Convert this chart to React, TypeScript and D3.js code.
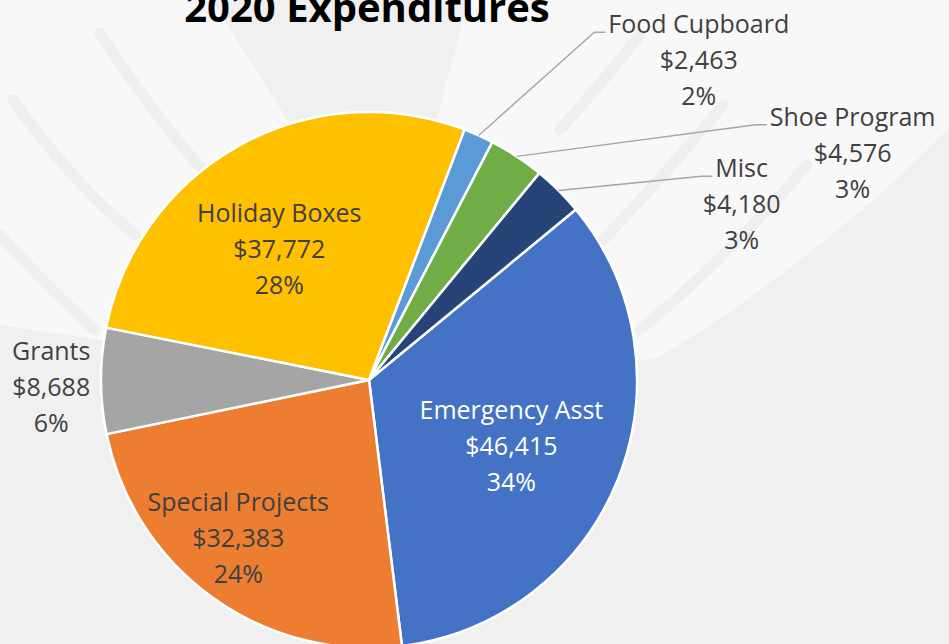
import React from 'react';
import * as d3 from 'd3';

// chart values
const categories = ['Emergency Asst', 'Special Projects', 'Grants', 'Holiday Boxes', 'Food Cupboard', 'Shoe Program', 'Misc'];
const amounts = [46415, 32383, 8688, 37772, 2463, 4576, 4180];
const colors = ['#4472C4', '#ED7D31', '#A5A5A5', '#FFC000', '#5B9BD5', '#70AD47', '#264478'];
const title = '2020 Expenditures';

// layout: where each label sits relative to its slice centroid, and which get leader lines
const labelNudge = [[-7, 6], [-37, 26], [-157, 5], [-12, 9], [264, -174], [395, -94], [259, -63]];
const hasLeader = [false, false, false, false, true, true, true];
const whiteText = [true, false, false, false, false, false, false];

const W = 949;
const H = 644;
const cx = 369;
const cy = 380;
const R = 268;
const FONT = "'Open Sans', 'DejaVu Sans', sans-serif";
const FS = 25;
const LH = 36;

// soft background decoration
const lightAreas = [
  'M0,0 L212,0 L300,140 L369,380 L0,325 Z',
  'M468,0 L949,0 L949,128 C860,220 740,310 660,356 Q640,366 615,350 L369,380 Z',
];
const strokes = [
  'M100,33 Q150,110 200,167',
  'M13,100 Q70,180 135,235',
  'M0,235 Q50,290 95,330',
  'M640,35 Q600,85 560,130',
  'M723,105 Q665,175 603,240',
  'M807,165 Q730,255 640,330',
];

function textWidth(s: string, size: number, weight = 'normal') {
  const c = document.createElement('canvas').getContext('2d');
  if (!c) return s.length * size * 0.55;
  c.font = `${weight} ${size}px ${FONT}`;
  return c.measureText(s).width;
}

export default function App() {
  const total = d3.sum(amounts);
  const rows = categories.map((name, i) => ({ name, value: amounts[i], i }));
  const start = (50.5 * Math.PI) / 180;
  const pie = d3.pie<any>().value((d) => d.value).sort(null).startAngle(start).endAngle(start + 2 * Math.PI);
  const arcs = pie(rows);
  const arc = d3.arc<any>().innerRadius(0).outerRadius(R);
  const labelArc = d3.arc<any>().innerRadius(R * 0.6).outerRadius(R * 0.6);
  const edgeArc = d3.arc<any>().innerRadius(R).outerRadius(R);
  const money = d3.format('$,');
  const pct = d3.format('.0%');

  return (
    <svg width={W} height={H} style={{ position: 'absolute', left: 0, top: 0 }} fontFamily={FONT}>
      <rect width={W} height={H} fill="#f0f0f0" />
      {lightAreas.map((p, k) => <path key={k} d={p} fill="#f8f8f8" />)}
      {strokes.map((p, k) => (
        <path key={k} d={p} fill="none" stroke="#efefef" strokeWidth={11} strokeLinecap="round" />
      ))}

      <g transform={`translate(${cx},${cy})`}>
        {arcs.map((a) => (
          <path key={a.data.name} d={arc(a) || ''} fill={colors[a.data.i]} stroke="#fff" strokeWidth={2.5} strokeLinejoin="round" />
        ))}
        {arcs.map((a) => {
          const i = a.data.i;
          const [x0, y0] = labelArc.centroid(a);
          const lx = x0 + labelNudge[i][0];
          const ly = y0 + labelNudge[i][1];
          const lines = [a.data.name, money(a.data.value), pct(a.data.value / total)];
          let leader = null;
          if (hasLeader[i]) {
            const [ex, ey] = edgeArc.centroid(a);
            const left = lx - textWidth(lines[0], FS) / 2;
            const yy = ly - LH + 9;
            leader = (
              <polyline
                points={`${ex},${ey} ${left - 14},${yy} ${left - 3},${yy}`}
                fill="none"
                stroke="#a6a6a6"
                strokeWidth={1.4}
              />
            );
          }
          return (
            <g key={'l' + a.data.name}>
              {leader}
              {lines.map((t, k) => (
                <text
                  key={k}
                  x={lx}
                  y={ly + (k - 1) * LH}
                  textAnchor="middle"
                  dominantBaseline="central"
                  fontSize={FS}
                  fill={whiteText[i] ? '#ffffff' : '#404040'}
                >
                  {t}
                </text>
              ))}
            </g>
          );
        })}
      </g>

      <text x={367} y={22} textAnchor="middle" fontSize={40} fontWeight="bold" fill="#000">
        {title}
      </text>
    </svg>
  );
}
